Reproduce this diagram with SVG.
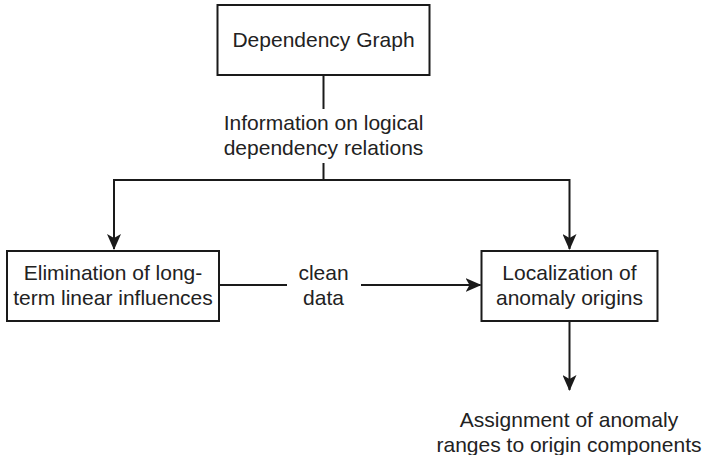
<svg xmlns="http://www.w3.org/2000/svg" width="702" height="455" viewBox="0 0 702 455">
  <style>
    .box { fill: #ffffff; stroke: #1a1a1a; stroke-width: 2; }
    .lbl { font-family: "Liberation Sans", Arial, sans-serif; font-size: 21px; fill: #222222; text-anchor: middle; }
    .conn { fill: none; stroke: #1a1a1a; stroke-width: 2; }
  </style>
  <defs>
    <marker id="arrow" markerUnits="userSpaceOnUse" viewBox="0 0 16 14" refX="15" refY="7" markerWidth="16" markerHeight="14" orient="auto">
      <path d="M0,0 L16,7 L0,14 L4,7 Z" fill="#1a1a1a"/>
    </marker>
  </defs>
  <rect width="702" height="455" fill="#ffffff"/>

  <g id="connectors">
    <path class="conn" d="M323.5,75 V109"/>
    <path class="conn" d="M323.5,163 V180 H114 V249" marker-end="url(#arrow)"/>
    <path class="conn" d="M323.5,180 H569.5 V249" marker-end="url(#arrow)"/>
    <path class="conn" d="M219,285 H287"/>
    <path class="conn" d="M361,285 H480.5" marker-end="url(#arrow)"/>
    <path class="conn" d="M569.5,321 V390" marker-end="url(#arrow)"/>
    <text class="lbl" x="323.5" y="130">Information on logical</text>
    <text class="lbl" x="323.5" y="155">dependency relations</text>
    <text class="lbl" x="323.5" y="280">clean</text>
    <text class="lbl" x="323.5" y="305">data</text>
  </g>

  <g id="node-dependency-graph">
    <rect class="box" x="217.5" y="5" width="212" height="70"/>
    <text class="lbl" x="323.5" y="47">Dependency Graph</text>
  </g>

  <g id="node-elimination">
    <rect class="box" x="7" y="251" width="212" height="70"/>
    <text class="lbl" x="113" y="280">Elimination of long-</text>
    <text class="lbl" x="113" y="305">term linear influences</text>
  </g>

  <g id="node-localization">
    <rect class="box" x="481.5" y="251" width="176" height="70"/>
    <text class="lbl" x="569.5" y="280">Localization of</text>
    <text class="lbl" x="569.5" y="305">anomaly origins</text>
  </g>

  <g id="node-assignment">
    <text class="lbl" x="569" y="427">Assignment of anomaly</text>
    <text class="lbl" x="569" y="452">ranges to origin components</text>
  </g>
</svg>
